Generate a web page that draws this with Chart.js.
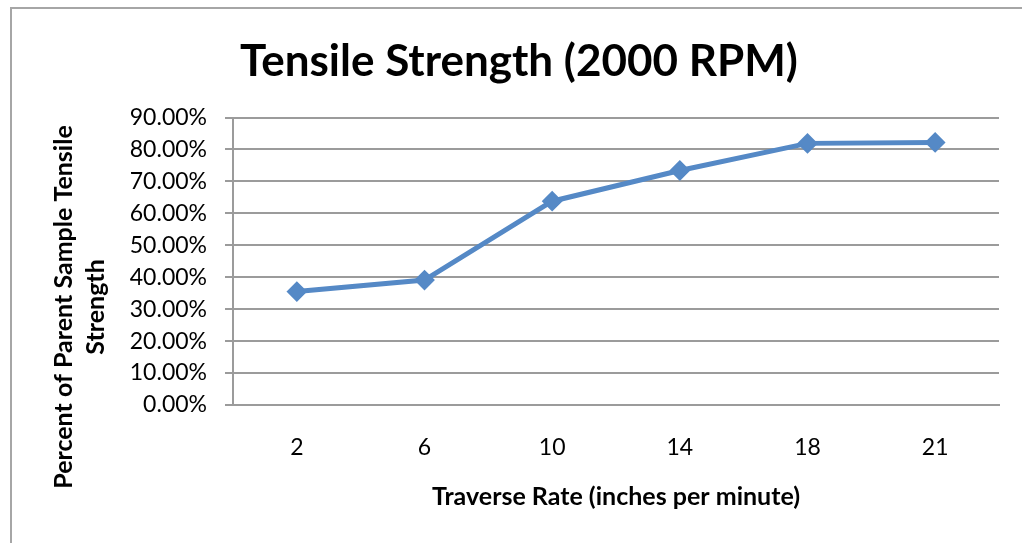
<!DOCTYPE html>
<html>
<head>
<meta charset="utf-8">
<title>Tensile Strength (2000 RPM)</title>
<script src="https://cdn.jsdelivr.net/npm/chart.js@4/dist/chart.umd.min.js"></script>
<style>
  html, body { margin: 0; padding: 0; background: #ffffff; }
  #wrap { position: relative; width: 1022px; height: 543px; }
</style>
</head>
<body>
<div id="wrap"><canvas id="chart" width="1022" height="543"></canvas></div>
<script>
// Traverse rate categories (inches per minute)
const rates = ['2', '6', '10', '14', '18', '21'];
// Percent of parent sample tensile strength, as fractions
const strength = [0.355, 0.391, 0.638, 0.734, 0.819, 0.822];
// Value-axis tick values
const yTicks = [0, 0.1, 0.2, 0.3, 0.4, 0.5, 0.6, 0.7, 0.8, 0.9];

const chartTitle = 'Tensile Strength (2000 RPM)';
const xTitle = 'Traverse Rate (inches per minute)';
const yTitleLines = ['Percent of Parent Sample Tensile', 'Strength'];

const FONT = 'Lato, "Open Sans", sans-serif';
const SERIES_BLUE = '#5589c6';
const GRID_GRAY = '#9b9b9b';

// Frame around the chart object (left and top edges are in view)
const framePlugin = {
  id: 'frame',
  beforeDraw(chart) {
    const ctx = chart.ctx;
    ctx.save();
    ctx.fillStyle = '#ffffff';
    ctx.fillRect(0, 0, chart.width, chart.height);
    ctx.strokeStyle = '#a6a6a6';
    ctx.lineWidth = 2;
    ctx.beginPath();
    ctx.moveTo(11, chart.height);
    ctx.lineTo(11, 8);
    ctx.lineTo(chart.width, 8);
    ctx.stroke();
    ctx.restore();
  }
};

// Two-line rotated value-axis title
const yTitlePlugin = {
  id: 'yTitle',
  afterDraw(chart) {
    const ctx = chart.ctx;
    ctx.save();
    ctx.font = 'bold 25px ' + FONT;
    ctx.fillStyle = '#000000';
    ctx.textAlign = 'center';
    ctx.textBaseline = 'middle';
    const xs = [64, 96];
    yTitleLines.forEach((line, i) => {
      ctx.save();
      ctx.translate(xs[i], 307);
      ctx.rotate(-Math.PI / 2);
      ctx.fillText(line, 0, 0);
      ctx.restore();
    });
    ctx.restore();
  }
};

function pct(v) {
  return (v * 100).toFixed(2) + '%';
}

function build() {
  new Chart(document.getElementById('chart'), {
    type: 'line',
    data: {
      labels: rates,
      datasets: [{
        data: strength,
        borderColor: SERIES_BLUE,
        backgroundColor: SERIES_BLUE,
        borderWidth: 5,
        pointStyle: 'rectRot',
        pointRadius: 9,
        pointBorderWidth: 2,
        pointBackgroundColor: SERIES_BLUE,
        pointBorderColor: SERIES_BLUE,
        tension: 0,
        fill: false
      }]
    },
    options: {
      responsive: false,
      animation: false,
      layout: { padding: { left: 39, right: 23, top: 0, bottom: 0 } },
      plugins: {
        legend: { display: false },
        tooltip: { enabled: false },
        title: {
          display: true,
          text: chartTitle,
          color: '#000000',
          font: { family: FONT, size: 44, weight: 'bold' },
          padding: { top: 35, bottom: 29.7 }
        }
      },
      scales: {
        x: {
          type: 'category',
          offset: true,
          grid: { display: false, drawTicks: false },
          border: { display: true, color: GRID_GRAY, width: 2 },
          ticks: {
            color: '#000000',
            font: { family: FONT, size: 23 },
            padding: 29,
            maxRotation: 0
          },
          title: {
            display: true,
            text: xTitle,
            color: '#000000',
            font: { family: FONT, size: 25, weight: 'bold' },
            padding: { top: 0, bottom: 31 }
          },
          afterFit(scale) { scale.height = 138; }
        },
        y: {
          min: 0,
          max: 0.9,
          afterBuildTicks(scale) {
            scale.ticks = yTicks.map(v => ({ value: v }));
          },
          grid: {
            color: GRID_GRAY,
            lineWidth: 2,
            drawTicks: true,
            tickLength: 8,
            tickColor: GRID_GRAY
          },
          border: { display: true, color: GRID_GRAY, width: 2 },
          ticks: {
            color: '#000000',
            font: { family: FONT, size: 23 },
            padding: 18,
            callback: (v) => pct(v)
          },
          afterFit(scale) { scale.width = 194; }
        }
      }
    },
    plugins: [framePlugin, yTitlePlugin]
  });
}

Promise.all([
  document.fonts.load('bold 44px Lato'),
  document.fonts.load('23px Lato'),
  document.fonts.load('bold 25px Lato')
]).then(build, build);
</script>
</body>
</html>
